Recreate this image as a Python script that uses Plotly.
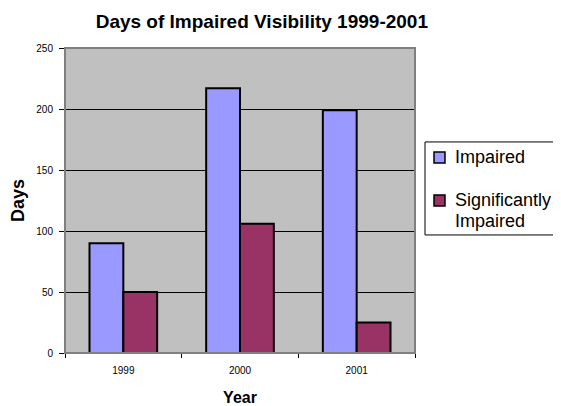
import plotly.graph_objects as go

years = ["1999", "2000", "2001"]
impaired = [90, 217, 199]
significantly_impaired = [50, 106, 25]
series_names = ["Impaired", "Significantly Impaired"]
series_colors = ["#9999FF", "#993366"]

fig = go.Figure()
fig.add_trace(go.Bar(x=years, y=impaired, name=series_names[0],
                     marker=dict(color=series_colors[0], line=dict(color="black", width=2))))
fig.add_trace(go.Bar(x=years, y=significantly_impaired, name=series_names[1],
                     marker=dict(color=series_colors[1], line=dict(color="black", width=2))))

# plot area border
fig.add_shape(type="rect", xref="paper", yref="paper", x0=0, y0=0, x1=1, y1=1,
              line=dict(color="#808080", width=2), layer="above")

# legend drawn by hand (box runs off the right edge, like the original)
fig.add_shape(type="rect", xref="paper", yref="paper", x0=1.0286, x1=1.45, y0=0.387, y1=0.692,
              line=dict(color="black", width=1), fillcolor="white")
fig.add_shape(type="rect", xref="paper", yref="paper", x0=1.0543, x1=1.0857, y0=0.623, y1=0.659,
              line=dict(color="black", width=1.5), fillcolor=series_colors[0])
fig.add_shape(type="rect", xref="paper", yref="paper", x0=1.0543, x1=1.0857, y0=0.482, y1=0.518,
              line=dict(color="black", width=1.5), fillcolor=series_colors[1])
legend_text = [("Impaired", 0.641), ("Significantly", 0.502), ("Impaired", 0.433)]
for txt, yy in legend_text:
    fig.add_annotation(text=txt, xref="paper", yref="paper", x=1.1086, y=yy,
                       xanchor="left", yanchor="middle", showarrow=False,
                       font=dict(size=18))

# page body has an 8px margin, so the figure is 8px smaller on each axis
fig.update_layout(
    width=553, height=398,
    margin=dict(l=57, r=146, t=40, b=53),
    paper_bgcolor="white", plot_bgcolor="#C0C0C0",
    font=dict(family="Liberation Sans, Arial", color="black"),
    title=dict(text="<b>Days of Impaired Visibility 1999-2001</b>", x=0.459, xanchor="center",
               y=0.967, yanchor="middle", font=dict(size=19)),
    barmode="group", bargap=0.42, bargroupgap=0,
    xaxis=dict(title=dict(text="<b>Year</b>", font=dict(size=16), standoff=16),
               tickfont=dict(size=10), ticks="outside", tickson="boundaries", ticklen=4,
               ticklabelstandoff=8, automargin=False,
               tickcolor="black", showline=True, linecolor="black", linewidth=1),
    yaxis=dict(title=dict(text="<b>Days</b>", font=dict(size=18), standoff=14),
               range=[0, 250], dtick=50, tickfont=dict(size=10), ticks="outside",
               ticklen=5, ticklabelstandoff=4, tickcolor="black", automargin=False,
               showgrid=True, gridcolor="black", gridwidth=1, zeroline=False),
    showlegend=False,
)

fig.write_html("out.html")
